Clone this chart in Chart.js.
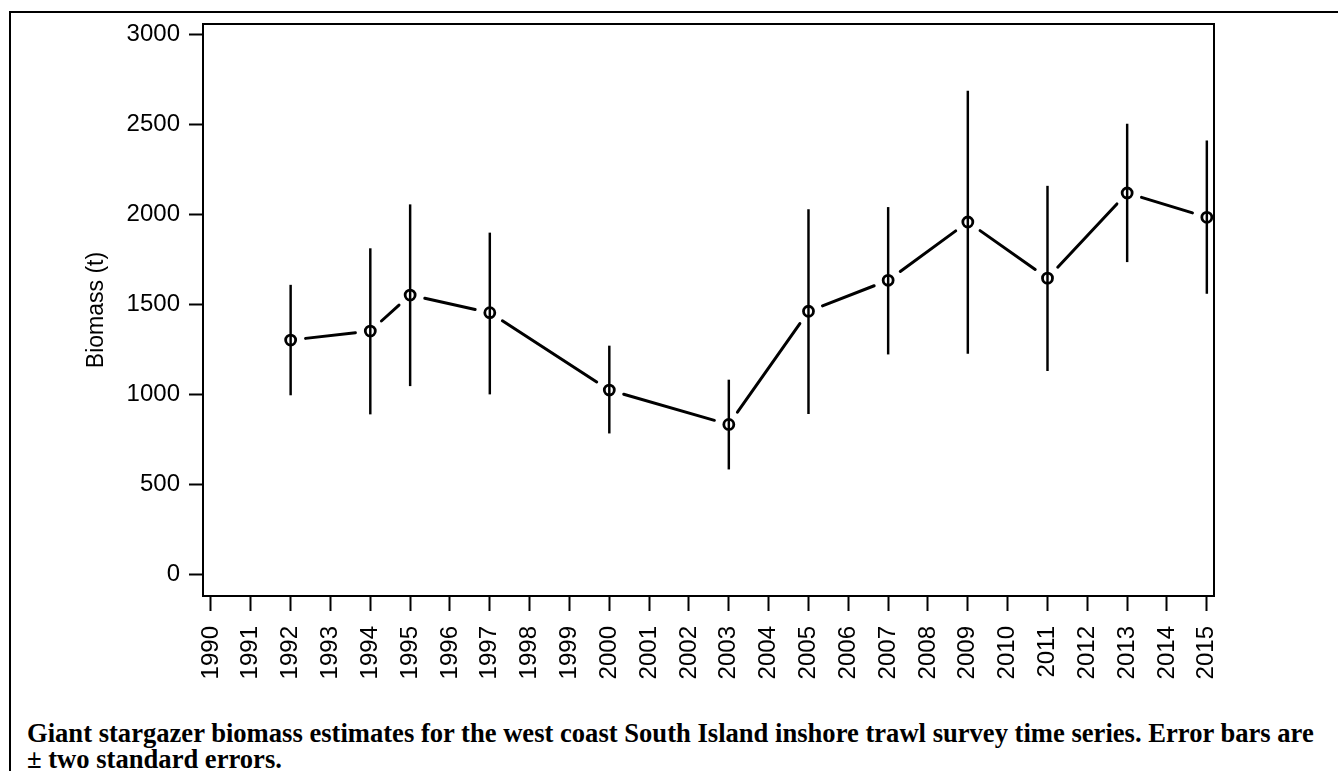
<!DOCTYPE html>
<html>
<head>
<meta charset="utf-8">
<script src="https://cdn.jsdelivr.net/npm/chart.js@4.4.1/dist/chart.umd.min.js"></script>
<style>
  html, body { margin: 0; padding: 0; background: #fff; overflow: hidden; width: 1338px; height: 771px; }
  #frame { position: absolute; left: 9px; top: 11px; width: 1400px; height: 800px; border-left: 2px solid #000; border-top: 2px solid #000; }
  #wrap { position: absolute; left: 0; top: 0; width: 1338px; height: 700px; }
  #caption { position: absolute; left: 27px; top: 720px; font-family: "Liberation Serif", "Times New Roman", serif; font-weight: bold; font-size: 26.6px; line-height: 26px; color: #000; white-space: nowrap; }
</style>
</head>
<body>
<div id="frame"></div>
<div id="wrap"><canvas id="c" width="1338" height="700"></canvas></div>
<div id="caption">Giant stargazer biomass estimates for the west coast South Island inshore trawl survey time series. Error bars are<br>± two standard errors.</div>
<script>
const years   = [1992, 1994, 1995, 1997, 2000, 2003, 2005, 2007, 2009, 2011, 2013, 2015];
const biomass = [1300, 1350, 1550, 1452, 1022, 831, 1460, 1632, 1956, 1644, 2117, 1982];
const lower   = [995, 889, 1046, 1000, 783, 583, 891, 1222, 1226, 1130, 1735, 1559];
const upper   = [1605, 1808, 2052, 1895, 1267, 1078, 2025, 2037, 2683, 2155, 2500, 2407];
const yTicks  = [0, 500, 1000, 1500, 2000, 2500, 3000];
const xTicks  = [1990, 1991, 1992, 1993, 1994, 1995, 1996, 1997, 1998, 1999, 2000, 2001, 2002,
                 2003, 2004, 2005, 2006, 2007, 2008, 2009, 2010, 2011, 2012, 2013, 2014, 2015];
const yTitle  = 'Biomass (t)';

const axisFont = { family: '"Liberation Sans", Arial, sans-serif', size: 24 };

const gapLinePlugin = {
  id: 'gapLine',
  afterDatasetsDraw(chart) {
    const meta = chart.getDatasetMeta(1);
    const pts = meta.data;
    const ctx = chart.ctx;
    const gap = 15;
    ctx.save();
    ctx.strokeStyle = '#000';
    ctx.lineWidth = 3;
    ctx.lineCap = 'round';
    for (let i = 0; i < pts.length - 1; i++) {
      const a = pts[i], b = pts[i + 1];
      const dx = b.x - a.x, dy = b.y - a.y;
      const len = Math.hypot(dx, dy);
      if (len <= 2 * gap) continue;
      const ux = dx / len, uy = dy / len;
      ctx.beginPath();
      ctx.moveTo(a.x + ux * gap, a.y + uy * gap);
      ctx.lineTo(b.x - ux * gap, b.y - uy * gap);
      ctx.stroke();
    }
    ctx.restore();
  }
};

const boxPlugin = {
  id: 'box',
  afterDraw(chart) {
    const { left, top, right, bottom } = chart.chartArea;
    const ctx = chart.ctx;
    ctx.save();
    ctx.strokeStyle = '#000';
    ctx.lineWidth = 2;
    ctx.strokeRect(left, top, right - left, bottom - top);
    ctx.restore();
  }
};

new Chart(document.getElementById('c'), {
  type: 'line',
  data: {
    datasets: [
      {
        type: 'bar',
        data: years.map((y, i) => ({ x: y, y: [lower[i], upper[i]] })),
        backgroundColor: '#000',
        borderWidth: 0,
        barThickness: 1.8,
        order: 2
      },
      {
        type: 'line',
        data: years.map((y, i) => ({ x: y, y: biomass[i] })),
        showLine: false,
        pointStyle: 'circle',
        pointRadius: 5,
        pointBorderWidth: 2.8,
        pointBorderColor: '#000',
        pointBackgroundColor: 'rgba(0,0,0,0)',
        order: 1
      }
    ]
  },
  options: {
    responsive: false,
    animation: false,
    devicePixelRatio: 1,
    layout: { padding: { left: 0, top: 24, right: 124, bottom: 0 } },
    plugins: { legend: { display: false }, tooltip: { enabled: false } },
    scales: {
      x: {
        type: 'linear',
        min: 1989.8,
        max: 2015.18,
        offset: false,
        grid: { drawOnChartArea: false, drawTicks: true, tickLength: 15, tickWidth: 2, tickColor: '#000', offset: false },
        border: { display: false },
        afterBuildTicks: s => { s.ticks = xTicks.map(v => ({ value: v })); },
        afterFit: s => { s.height = 104; s.paddingLeft = 0; s.paddingRight = 0; },
        ticks: {
          autoSkip: false,
          minRotation: 90,
          maxRotation: 90,
          padding: 15,
          color: '#000',
          font: axisFont,
          callback: v => String(v)
        }
      },
      y: {
        type: 'linear',
        min: -122,
        max: 3056,
        grid: { drawOnChartArea: false, drawTicks: true, tickLength: 14, tickWidth: 2, tickColor: '#000' },
        border: { display: false },
        afterBuildTicks: s => { s.ticks = yTicks.map(v => ({ value: v })); },
        afterFit: s => { s.width = 203; s.paddingTop = 0; s.paddingBottom = 0; },
        ticks: {
          padding: 9,
          color: '#000',
          font: axisFont,
          callback: v => String(v)
        },
        title: {
          display: true,
          text: yTitle,
          color: '#000',
          font: { family: '"Liberation Sans", Arial, sans-serif', size: 23 },
          padding: { top: 83, bottom: 0 }
        }
      }
    }
  },
  plugins: [gapLinePlugin, boxPlugin]
});
</script>
</body>
</html>
